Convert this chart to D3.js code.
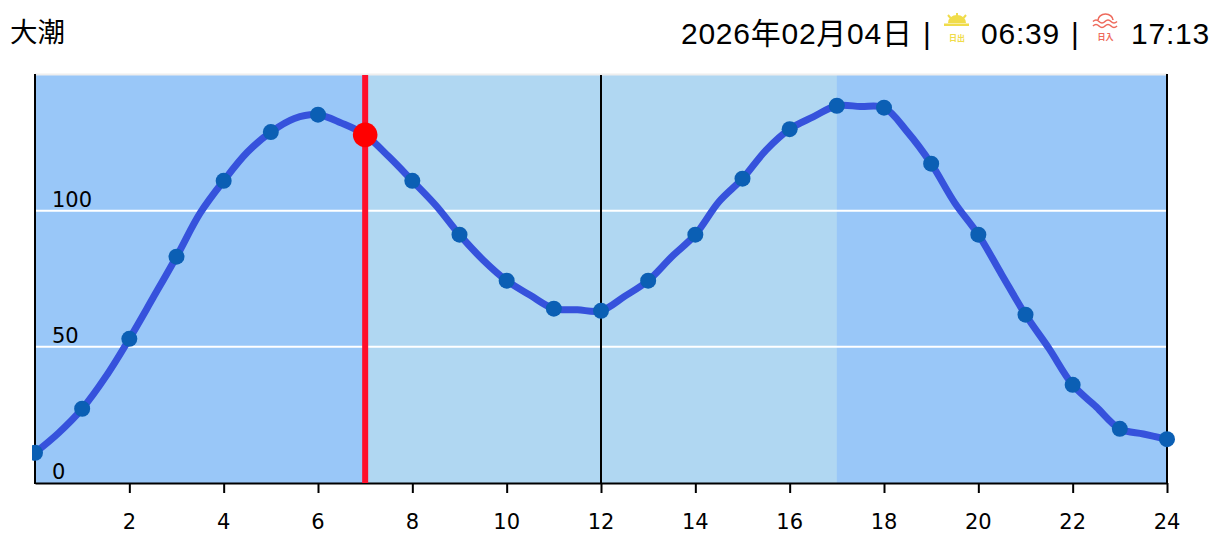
<!DOCTYPE html>
<html><head><meta charset="utf-8">
<script src="https://cdn.jsdelivr.net/npm/d3@7"></script>
<style>html,body{margin:0;padding:0;background:#fff}svg{display:block}
.hd{font-family:"Liberation Sans","Noto Sans CJK JP",sans-serif;font-size:30px;fill:#000}
.tk{font-family:"DejaVu Sans",sans-serif;font-size:21px;fill:#000}</style>
</head><body><svg id="c" width="1223" height="548"></svg>
<script>
const title = "大潮";
const dateLabel = "2026年02月04日";
const sunrise = "06:39";
const sunset = "17:13";
const hours = d3.range(0, 25);
const tide = [11.1,27.3,53,83.2,111.1,129,135.4,128,111.1,91.3,74.4,64.1,63.3,74.4,91.3,111.9,130.1,138.7,138,117.4,91.3,61.9,36.1,19.9,16.1];
const halfHours = d3.range(0.5, 24, 1);
const tideHalf = [18.4,39.1,68,99.2,121.6,134,132.3,120,102,82,69,63.7,68.6,83.2,103.4,122.4,134.6,138.4,129,103,76.5,49.4,28,18];
const xTicks = [2,4,6,8,10,12,14,16,18,20,22,24];
const yTicks = [0,50,100];
const nowHour = 7, noonHour = 12, nowValue = 128;
const dayStart = 7, dayEnd = 17;

const curveData = hours.flatMap((h,i)=> i<24 ? [[h,tide[i]],[halfHours[i],tideHalf[i]]] : [[h,tide[i]]]);

const svg = d3.select("#c");
const x = d3.scaleLinear().domain([0,24]).range([35,1167]);
const y = d3.scaleLinear().domain([0,150]).range([483,75]);

svg.append("rect").attr("x",x(0)).attr("y",y(150)).attr("width",x(24)-x(0)).attr("height",y(0)-y(150)).attr("fill","#99c7f8");
svg.append("rect").attr("x",x(dayStart)).attr("y",y(150)).attr("width",x(dayEnd)-x(dayStart)).attr("height",y(0)-y(150)).attr("fill","#b0d7f2");
svg.append("line").attr("x1",x(0)).attr("x2",x(24)).attr("y1",y(150)-0.5).attr("y2",y(150)-0.5).attr("stroke","#eeeeee").attr("stroke-width",2);

yTicks.filter(d=>d>0).forEach(d=>svg.append("line").attr("x1",x(0)).attr("x2",x(24)).attr("y1",y(d)-0.3).attr("y2",y(d)-0.3).attr("stroke","#fff").attr("stroke-width",2));
yTicks.forEach(d=>svg.append("text").attr("class","tk").attr("x",52).attr("y",y(d)-4.3).text(d));

svg.append("line").attr("x1",x(noonHour)).attr("x2",x(noonHour)).attr("y1",y(150)).attr("y2",y(0)).attr("stroke","#000").attr("stroke-width",2);

const g = svg.append("g").attr("transform","translate(0,"+y(0)+")");
g.call(d3.axisBottom(x).tickValues(xTicks).tickSize(10).tickPadding(21).tickSizeOuter(0));
g.select(".domain").attr("stroke","#000").attr("stroke-width",2);
g.selectAll(".tick line").attr("stroke","#000").attr("stroke-width",2);
g.selectAll(".tick text").attr("class","tk").attr("fill","#000").attr("font-family",null).attr("font-size",null).attr("dx",-0.5);
[0,24].forEach(h=>svg.append("line").attr("x1",x(h)).attr("x2",x(h)).attr("y1",y(150)-1).attr("y2",y(0)+1).attr("stroke","#000").attr("stroke-width",2));

svg.append("clipPath").attr("id","pc").append("rect").attr("x",32).attr("y",60).attr("width",1180).attr("height",430);
const pl = svg.append("g").attr("clip-path","url(#pc)");
pl.append("path").datum(curveData).attr("fill","none").attr("stroke","#3652dc").attr("stroke-width",7).attr("stroke-linejoin","round")
  .attr("d",d3.line().x(d=>x(d[0])).y(d=>y(d[1])).curve(d3.curveCatmullRom.alpha(0.5)));
pl.selectAll("circle").data(hours).join("circle").attr("cx",d=>x(d)).attr("cy",d=>y(tide[d])).attr("r",8).attr("fill","#0b5fb4");

svg.append("line").attr("x1",x(nowHour)).attr("x2",x(nowHour)).attr("y1",y(150)).attr("y2",y(0)).attr("stroke","#ff0f2b").attr("stroke-width",6);
svg.append("circle").attr("cx",x(nowHour)).attr("cy",y(nowValue)).attr("r",12.3).attr("fill","#ff0000");

svg.append("text").attr("class","hd").attr("x",10).attr("y",42).style("font-size","27.5px").text(title);
svg.append("text").attr("class","hd").attr("x",681).attr("y",43.5).style("letter-spacing","0.75px").text(dateLabel);
svg.append("text").attr("class","hd").attr("x",923).attr("y",43.5).text("|");
svg.append("text").attr("class","hd").attr("x",981).attr("y",43.5).style("letter-spacing","0.8px").text(sunrise);
svg.append("text").attr("class","hd").attr("x",1071).attr("y",43.5).text("|");
svg.append("text").attr("class","hd").attr("x",1131).attr("y",43.5).style("letter-spacing","0.8px").text(sunset);

// sunrise icon
const s = svg.append("g").attr("fill","#f0dc4a");
s.append("path").attr("d","M948 23 A9 8 0 0 1 966 23 Z");
s.append("rect").attr("x",944).attr("y",23.5).attr("width",25).attr("height",2.5);
const sr = svg.append("g").attr("stroke","#f0dc4a").attr("stroke-width",2);
[[957,13,957,16.5],[948,15,950.5,18],[966,15,963.5,18]].forEach(a=>sr.append("line").attr("x1",a[0]).attr("y1",a[1]).attr("x2",a[2]).attr("y2",a[3]));
svg.append("text").attr("x",957).attr("y",41).attr("text-anchor","middle").attr("fill","#f0dc4a").style("font-family","'Noto Sans CJK JP'").style("font-size","8px").style("font-weight",700).text("日出");
// sunset icon
const t = svg.append("g").attr("fill","none").attr("stroke","#ee6a5c").attr("stroke-width",1.6);
t.append("path").attr("d","M1098 20 A7.5 6 0 0 1 1113 20");
t.append("path").attr("d","M1093 21.5 q3 -3 6 0 t6 0 t6 0 t6 0");
t.append("path").attr("d","M1093 26 q3 -3 6 0 t6 0 t6 0 t6 0");
svg.append("text").attr("x",1105.5).attr("y",40).attr("text-anchor","middle").attr("fill","#ee6a5c").style("font-family","'Noto Sans CJK JP'").style("font-size","8px").style("font-weight",700).text("日入");
</script></body></html>
